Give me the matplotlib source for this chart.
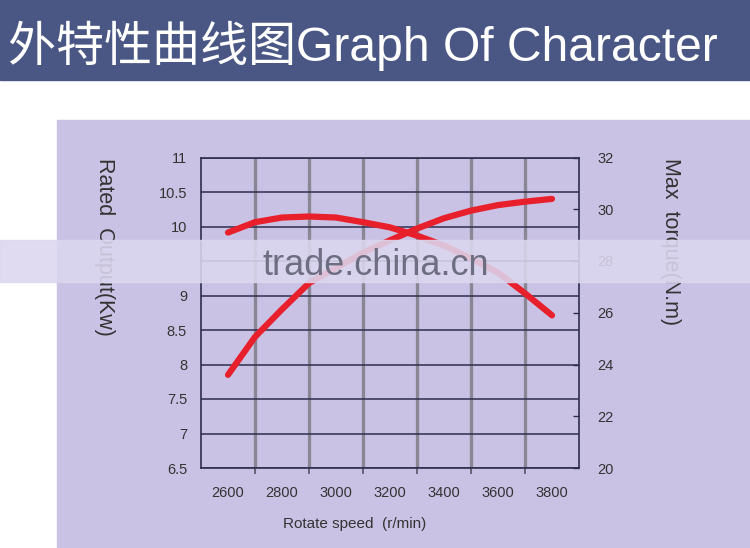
import matplotlib
matplotlib.use("Agg")
import matplotlib.pyplot as plt
from matplotlib.patches import Rectangle

# values
rpm = [2600, 2700, 2800, 2900, 3000, 3100, 3200, 3300, 3400, 3500, 3600, 3700, 3800]
power_kw = [7.85, 8.40, 8.80, 9.18, 9.40, 9.62, 9.80, 9.97, 10.12, 10.23, 10.31, 10.36, 10.40]
torque_nm = [29.10, 29.50, 29.68, 29.72, 29.68, 29.50, 29.30, 28.98, 28.60, 28.10, 27.55, 26.75, 25.90]

x_labels = [2600, 2800, 3000, 3200, 3400, 3600, 3800]
x_grid = [2700, 2900, 3100, 3300, 3500, 3700]
left_ticks = [6.5, 7, 7.5, 8, 8.5, 9, 9.5, 10, 10.5, 11]
left_labels = ["6.5", "7", "7.5", "8", "8.5", "9", "", "10", "10.5", "11"]
right_ticks = [20, 22, 24, 26, 28, 30, 32]

plt.rcParams['font.family'] = ['Liberation Sans', 'Noto Sans CJK SC', 'DejaVu Sans']

W, H = 750, 548
fig = plt.figure(figsize=(W / 100, H / 100), dpi=100)
fig.patch.set_facecolor("white")

def px(x0, y0, x1, y1):
    # pixel box (top-left origin) -> figure fraction rectangle
    return (x0 / W, 1 - y1 / H), (x1 - x0) / W, (y1 - y0) / H

xy, w, h = px(0, 0, W, 80)
fig.add_artist(Rectangle(xy, w, h, transform=fig.transFigure, color="#4a5784", zorder=0))
xy, w, h = px(57, 120, W, H)
fig.add_artist(Rectangle(xy, w, h, transform=fig.transFigure, color="#cac2e4", zorder=0))

fig.text(8 / W, 1 - 61 / H, "外特性曲线图Graph Of Character", color="white",
         fontsize=34.6, va="baseline", ha="left")

ax = fig.add_axes([201 / W, 1 - 468 / H, 378 / W, 310.5 / H])
ax.patch.set_alpha(0)
ax.set_xlim(2500, 3900)
ax.set_ylim(6.5, 11)
ax.set_xticks(x_labels)
ax.set_xticklabels([str(v) for v in x_labels])
ax.set_xticks(x_grid, minor=True)
ax.tick_params(axis="x", which="major", length=0, pad=13, labelsize=10.5, labelcolor="#333333")
ax.tick_params(axis="x", which="minor", length=4, width=1.2, color="#555566", direction="out")
ax.set_yticks(left_ticks)
ax.set_yticklabels(left_labels)
ax.tick_params(axis="y", length=0, pad=10, labelsize=10.5, labelcolor="#333333")
ax.grid(axis="y", color="#2e2e4e", lw=1.1)
for xv in x_grid:
    ax.axvline(xv, color="#8a8794", lw=2.4, zorder=1)
for s in ax.spines.values():
    s.set_color("#2e2e4e")
    s.set_linewidth(1.2)
ax.set_xlabel("Rotate speed  (r/min)", fontsize=11, color="#333333")
ax.xaxis.set_label_coords(0.407, -0.158)
ax.set_ylabel("Rated  Output(Kw)", fontsize=15.5, color="#333333", rotation=-90,
              va="center", labelpad=14)
ax.yaxis.set_label_coords(-0.255, 0.712)

ax.plot(rpm, power_kw, color="#e8202c", lw=4.5, solid_capstyle="round", zorder=3)

ax2 = ax.twinx()
ax2.set_ylim(20, 32)
ax2.set_yticks(right_ticks)
ax2.tick_params(axis="y", direction="in", length=4, width=1, color="#2e2e4e",
                pad=13, labelsize=10.5, labelcolor="#333333")
for s in ax2.spines.values():
    s.set_visible(False)
ax2.plot(rpm, torque_nm, color="#e8202c", lw=4.5, solid_capstyle="round", zorder=3)
fig.text(670 / W, 1 - 158 / H, "Max  torque(N.m)", fontsize=15.5, color="#333333",
         rotation=-90, ha="center", va="top")

# watermark band
xy, w, h = px(0, 240, W, 282)
fig.add_artist(Rectangle(xy, w, h, transform=fig.transFigure, color="#dcd7ef",
                         alpha=0.88, zorder=10))
fig.text(376 / W, 1 - 275 / H, "trade.china.cn", fontsize=26, color="#6e6e82",
         ha="center", va="baseline", zorder=11)

fig.savefig("out.png", dpi=100)
